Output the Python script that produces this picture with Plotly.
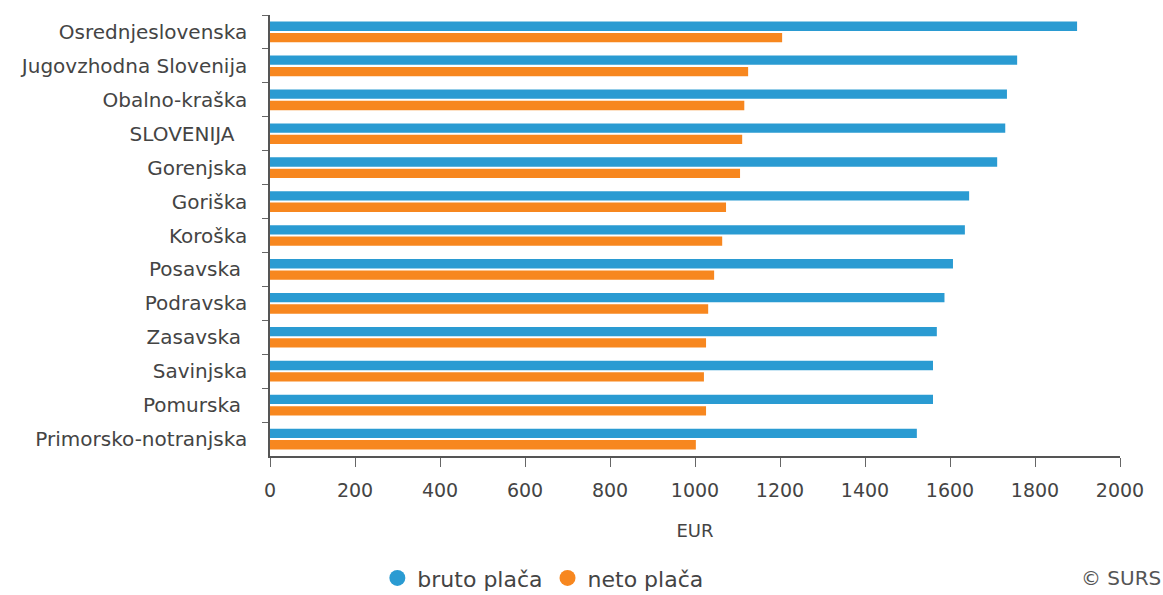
import plotly.graph_objects as go

regions = ["Osrednjeslovenska", "Jugovzhodna Slovenija", "Obalno-kraška", "SLOVENIJA\u00a0\u00a0",
           "Gorenjska", "Goriška", "Koroška", "Posavska\u00a0", "Podravska", "Zasavska\u00a0",
           "Savinjska", "Pomurska\u00a0", "Primorsko-notranjska"]
bruto = [1899, 1758, 1734, 1730, 1711, 1645, 1635, 1607, 1587, 1569, 1560, 1560, 1522]
neto = [1205, 1125, 1116, 1111, 1106, 1073, 1064, 1045, 1031, 1026, 1021, 1026, 1002]
series_names = ["bruto plača", "neto plača"]
x_ticks = [0, 200, 400, 600, 800, 1000, 1200, 1400, 1600, 1800, 2000]

BLUE = "#2a9bd2"
ORANGE = "#f7871f"
FONT = "DejaVu Sans"

fig = go.Figure()
fig.add_trace(go.Bar(y=regions, x=bruto, orientation="h", name=series_names[0],
                     marker=dict(color=BLUE, line=dict(width=0)), showlegend=False))
fig.add_trace(go.Bar(y=regions, x=neto, orientation="h", name=series_names[1],
                     marker=dict(color=ORANGE, line=dict(width=0)), showlegend=False))
# legend entries with round symbols
for nm, col in zip(series_names, [BLUE, ORANGE]):
    fig.add_trace(go.Scatter(x=[None], y=[None], mode="markers", name=nm,
                             marker=dict(color=col, size=16, symbol="circle")))

fig.update_layout(
    width=1163, height=595,
    margin=dict(l=270, r=43, t=15, b=139, autoexpand=False),
    paper_bgcolor="white", plot_bgcolor="white",
    barmode="group", bargap=0.33, bargroupgap=0.18,
    font=dict(family=FONT, color="#444444", size=18),
    showlegend=True,
    legend=dict(orientation="h", x=0.321, xanchor="center", y=-0.277, yanchor="middle",
                font=dict(family=FONT, size=22, color="#444444"),
                itemsizing="trace", traceorder="normal", itemwidth=30,
                bgcolor="rgba(0,0,0,0)"),
)
fig.update_xaxes(range=[0, 2000], tickvals=x_ticks, showgrid=False, zeroline=False,
                 showline=True, linecolor="#555555", linewidth=1.5,
                 ticks="outside", ticklen=9, tickcolor="#666666",
                 tickfont=dict(family=FONT, size=19, color="#444444"),
                 ticklabelstandoff=7,
                 title=dict(text="EUR", font=dict(family=FONT, size=18, color="#444444"),
                            standoff=25))
fig.update_yaxes(type="category", autorange="reversed", showgrid=False, zeroline=False,
                 showline=True, linecolor="#555555", linewidth=1.5,
                 ticks="outside", ticklen=6, tickcolor="#666666", tickson="boundaries",
                 tickfont=dict(family=FONT, size=20, color="#444444"),
                 ticklabelstandoff=17)
fig.add_annotation(text="© SURS", xref="paper", yref="paper", x=1.05, y=-0.277,
                   xanchor="right", yanchor="middle", showarrow=False,
                   font=dict(family=FONT, size=20, color="#555555"))

fig.write_html("out.html", config={"displayModeBar": False},
               post_script="document.body.style.margin='0px';")
